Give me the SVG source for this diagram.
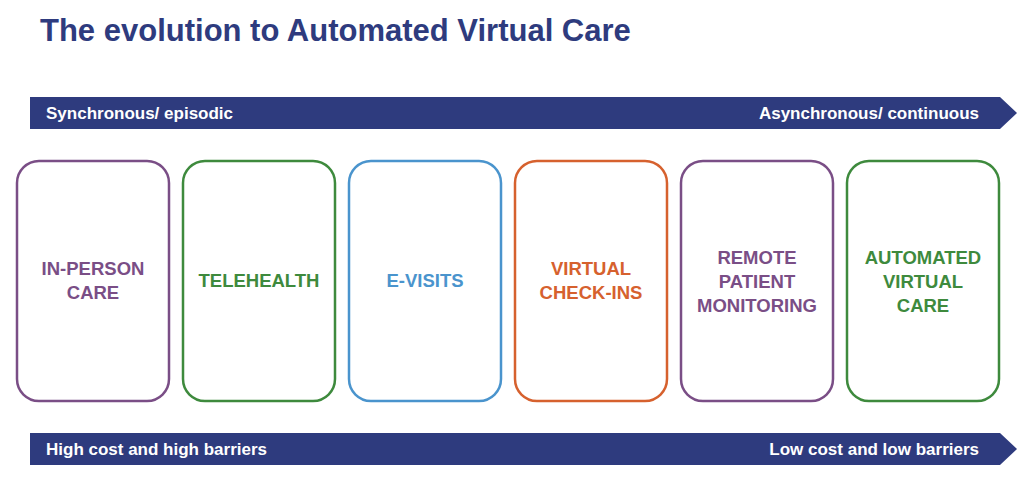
<svg xmlns="http://www.w3.org/2000/svg" width="1024" height="487" viewBox="0 0 1024 487">
<style>
text{font-family:"Liberation Sans",Arial,sans-serif;font-weight:bold}
.t{font-size:31px;fill:#2e3b7e}
.a{fill:#2e3b7e}
.al{font-size:17px;fill:#fff}
.b{fill:#fff;stroke-width:2.5}
.l{font-size:18.5px;text-anchor:middle}
.p{stroke:#7a4e86}.pf{fill:#7a4e86}
.g{stroke:#3e8a3d}.gf{fill:#3e8a3d}
.bl{stroke:#4a94cd}.blf{fill:#4a94cd}
.o{stroke:#d6612e}.of{fill:#d6612e}
</style>
<text class="t" x="40" y="41">The evolution to Automated Virtual Care</text>
<g id="connectors">
<polygon class="a" points="30,97 1000,97 1017,113 1000,129 30,129"/>
<polygon class="a" points="30,433 1000,433 1017,449 1000,465 30,465"/>
</g>
<text class="al" x="46" y="119">Synchronous/ episodic</text>
<text class="al" x="979" y="119" text-anchor="end">Asynchronous/ continuous</text>
<text class="al" x="46" y="455">High cost and high barriers</text>
<text class="al" x="979" y="455" text-anchor="end">Low cost and low barriers</text>
<g id="n1"><rect class="b p" x="17" y="161" width="152" height="240" rx="22"/><text class="l pf" x="93" y="275">IN-PERSON</text><text class="l pf" x="93" y="299">CARE</text></g>
<g id="n2"><rect class="b g" x="183" y="161" width="152" height="240" rx="22"/><text class="l gf" x="259" y="287">TELEHEALTH</text></g>
<g id="n3"><rect class="b bl" x="349" y="161" width="152" height="240" rx="22"/><text class="l blf" x="425" y="287">E-VISITS</text></g>
<g id="n4"><rect class="b o" x="515" y="161" width="152" height="240" rx="22"/><text class="l of" x="591" y="275">VIRTUAL</text><text class="l of" x="591" y="299">CHECK-INS</text></g>
<g id="n5"><rect class="b p" x="681" y="161" width="152" height="240" rx="22"/><text class="l pf" x="757" y="264">REMOTE</text><text class="l pf" x="757" y="288">PATIENT</text><text class="l pf" x="757" y="312">MONITORING</text></g>
<g id="n6"><rect class="b g" x="847" y="161" width="152" height="240" rx="22"/><text class="l gf" x="923" y="264">AUTOMATED</text><text class="l gf" x="923" y="288">VIRTUAL</text><text class="l gf" x="923" y="312">CARE</text></g>
</svg>
